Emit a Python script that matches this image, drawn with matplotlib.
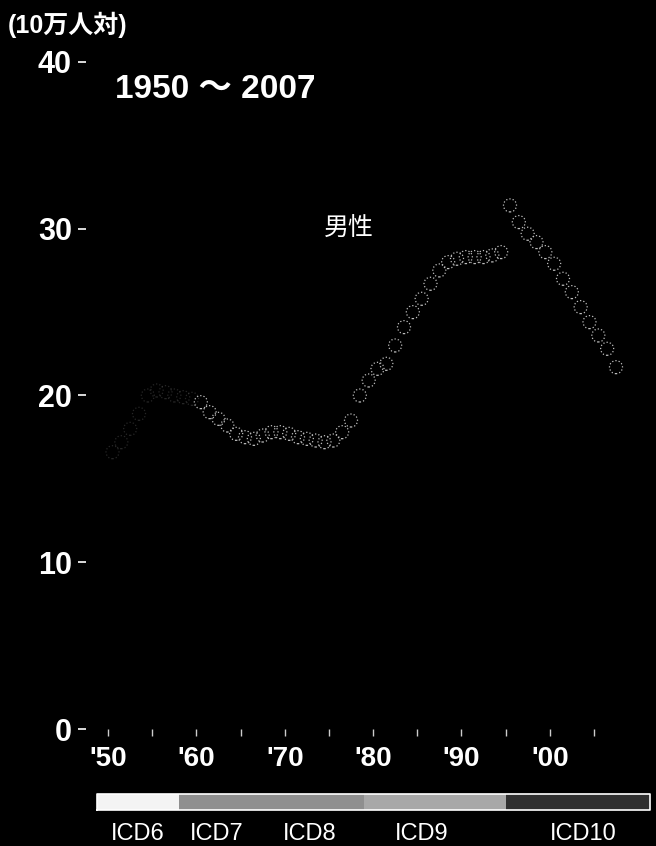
import numpy as np
import matplotlib
matplotlib.use("Agg")
import matplotlib.pyplot as plt
from matplotlib.transforms import blended_transform_factory

plt.rcParams['font.family'] = ['Liberation Sans', 'Noto Sans CJK JP', 'DejaVu Sans']

# male rate per 100k, 1950-2007
years = np.arange(1950, 2008)
male_rate = [16.6, 17.2, 18.0, 18.9, 20.0, 20.3, 20.2, 20.0, 19.9, 19.8,
             19.6, 19.0, 18.6, 18.2, 17.7, 17.5, 17.4, 17.6, 17.8, 17.8,
             17.7, 17.5, 17.4, 17.3, 17.2, 17.3, 17.8, 18.5, 20.0, 20.9,
             21.6, 21.9, 23.0, 24.1, 25.0, 25.8, 26.7, 27.5, 28.0, 28.2,
             28.3, 28.3, 28.3, 28.4, 28.6, 31.4, 30.4, 29.7, 29.2, 28.6,
             27.9, 27.0, 26.2, 25.3, 24.4, 23.6, 22.8, 21.7]

decade_ticks = [1950, 1960, 1970, 1980, 1990, 2000]
decade_labels = ["'50", "'60", "'70", "'80", "'90", "'00"]
half_ticks = [1955, 1965, 1975, 1985, 1995, 2005]
y_ticks = [0, 10, 20, 30, 40]

# ICD revision periods
icd_names = ['ICD6', 'ICD7', 'ICD8', 'ICD9', 'ICD10']
icd_edges = [1948.8, 1958, 1968, 1979, 1995, 2011.3]
icd_label_pos = [1953.4, 1962.3, 1972.8, 1985.5, 2003.8]
icd_colors = ['#f4f4f4', '#8f8f8f', '#8f8f8f', '#a8a8a8', '#303030']

W, H = 656, 846
fig = plt.figure(figsize=(W / 100, H / 100), dpi=100, facecolor='black')

ax = fig.add_axes([86 / W, (H - 729) / H, (650 - 86) / W, (729 - 62) / H])
ax.set_facecolor('black')
ax.set_xlim(1947.5, 2011.35)
ax.set_ylim(0, 40)
for s in ax.spines.values():
    s.set_visible(False)

yr = np.array(years) + 0.5  # mid-year
rate = np.array(male_rate)
early = yr < 1960
ax.scatter(yr[early], rate[early], s=88, facecolors='none', edgecolors='#9a9a9a',
           linewidths=0.9, linestyles=':', alpha=0.25)
ax.scatter(yr[~early], rate[~early], s=88, facecolors='none', edgecolors='#bdbdbd',
           linewidths=0.9, linestyles=':')

ax.set_yticks(y_ticks)
ax.set_yticklabels([str(v) for v in y_ticks])
ax.tick_params(axis='y', colors='white', labelcolor='white', length=5.8, width=1.2,
               pad=4.3, labelsize=22)
ax.set_xticks(decade_ticks)
ax.set_xticklabels(decade_labels)
ax.set_xticks(half_ticks, minor=True)
ax.tick_params(axis='x', which='both', colors='#cccccc', labelcolor='white',
               length=5, width=1, pad=7, labelsize=20)
for lab in ax.get_xticklabels() + ax.get_yticklabels():
    lab.set_fontweight('bold')

ax.text(1974.4, 30.0, '男性', color='white', fontsize=18, va='center', ha='left')

fig.text(115 / W, (H - 98) / H, '1950 ～ 2007', color='white', fontsize=24,
         fontweight='bold', va='baseline', ha='left')
fig.text(8 / W, (H - 33) / H, '(10万人対)', color='white', fontsize=18,
         fontweight='bold', va='baseline', ha='left')

# ICD bar
axb = fig.add_axes([86 / W, (H - 810) / H, (650 - 86) / W, 16 / H])
axb.set_xlim(ax.get_xlim())
axb.set_ylim(0, 1)
axb.axis('off')
for i in range(len(icd_names)):
    axb.barh(0.5, icd_edges[i + 1] - icd_edges[i], left=icd_edges[i], height=1,
             color=icd_colors[i], edgecolor='none')
axb.plot([icd_edges[0], icd_edges[-1], icd_edges[-1], icd_edges[0], icd_edges[0]],
         [0, 0, 1, 1, 0], color='white', lw=1.2, clip_on=False)

tr = blended_transform_factory(axb.transData, fig.transFigure)
for name, pos in zip(icd_names, icd_label_pos):
    fig.text(pos, (H - 840) / H, name, transform=tr, color='white', fontsize=17,
             ha='center', va='baseline')

fig.savefig('out.png', dpi=100, facecolor='black')
